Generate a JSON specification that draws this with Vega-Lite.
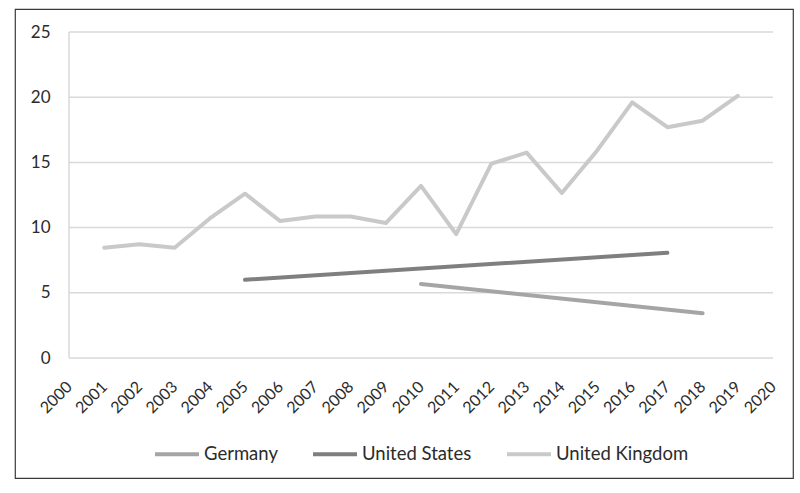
{
  "$schema": "https://vega.github.io/schema/vega-lite/v6.json",
  "width": 778,
  "height": 469,
  "autosize": {"type": "none"},
  "padding": {"left": 15, "top": 9, "right": 7, "bottom": 15},
  "background": "white",
  "config": {
    "view": {"stroke": "#3a3a3a", "strokeWidth": 1.2},
    "font": "Lato",
    "axis": {"labelFont": "Lato", "labelColor": "#2b2b2b", "labelFontSize": 17},
    "axisX": {"labelOverlap": false, "labelFlush": false, "labelFontSize": 16, "labelAngle": -45, "labelAlign": "right", "labelBaseline": "middle", "labelPadding": 26}
  },
  "datasets": {
    "series": [
      {"country": "United Kingdom", "year": 2001, "value": 8.45},
      {"country": "United Kingdom", "year": 2002, "value": 8.72},
      {"country": "United Kingdom", "year": 2003, "value": 8.46},
      {"country": "United Kingdom", "year": 2004, "value": 10.7},
      {"country": "United Kingdom", "year": 2005, "value": 12.6},
      {"country": "United Kingdom", "year": 2006, "value": 10.5},
      {"country": "United Kingdom", "year": 2007, "value": 10.85},
      {"country": "United Kingdom", "year": 2008, "value": 10.85},
      {"country": "United Kingdom", "year": 2009, "value": 10.35},
      {"country": "United Kingdom", "year": 2010, "value": 13.2},
      {"country": "United Kingdom", "year": 2011, "value": 9.5},
      {"country": "United Kingdom", "year": 2012, "value": 14.9},
      {"country": "United Kingdom", "year": 2013, "value": 15.75},
      {"country": "United Kingdom", "year": 2014, "value": 12.65},
      {"country": "United Kingdom", "year": 2015, "value": 15.9},
      {"country": "United Kingdom", "year": 2016, "value": 19.6},
      {"country": "United Kingdom", "year": 2017, "value": 17.7},
      {"country": "United Kingdom", "year": 2018, "value": 18.2},
      {"country": "United Kingdom", "year": 2019, "value": 20.1},
      {"country": "United States", "year": 2005, "value": 6.0},
      {"country": "United States", "year": 2017, "value": 8.07},
      {"country": "Germany", "year": 2010, "value": 5.67},
      {"country": "Germany", "year": 2018, "value": 3.43}
    ],
    "grid": [
      {"v": 0}, {"v": 5}, {"v": 10}, {"v": 15}, {"v": 20}, {"v": 25}
    ],
    "frame": [
      {"start": 2000, "end": 2020, "low": 0, "high": 25}
    ]
  },
  "encoding": {
    "x": {"type": "quantitative",
          "scale": {"domain": [1998.466, 2020.568], "nice": false, "zero": false},
          "axis": {"values": [2000,2001,2002,2003,2004,2005,2006,2007,2008,2009,2010,2011,2012,2013,2014,2015,2016,2017,2018,2019,2020],
                   "format": "d", "offset": -120, "ticks": false, "domain": false, "grid": false, "title": null}},
    "y": {"type": "quantitative",
          "scale": {"domain": [-9.202, 26.764], "nice": false, "zero": false},
          "axis": {"values": [0, 5, 10, 15, 20, 25], "offset": -54, "ticks": false, "domain": false, "grid": false, "labelPadding": 19, "title": null}}
  },
  "layer": [
    {
      "data": {"name": "grid"},
      "mark": {"type": "rule", "color": "#d9d9d9", "strokeWidth": 1.5},
      "encoding": {
        "y": {"field": "v"},
        "x": {"datum": 2000},
        "x2": {"datum": 2020}
      }
    },
    {
      "data": {"name": "frame"},
      "mark": {"type": "rule", "color": "#d9d9d9", "strokeWidth": 1.5},
      "encoding": {
        "x": {"field": "start"},
        "y": {"field": "low"},
        "y2": {"field": "high"}
      }
    },
    {
      "data": {"name": "series"},
      "mark": {"type": "line", "strokeWidth": 4, "strokeJoin": "round", "strokeCap": "round"},
      "encoding": {
        "x": {"field": "year"},
        "y": {"field": "value"},
        "color": {"field": "country", "type": "nominal",
                  "scale": {"domain": ["Germany", "United States", "United Kingdom"], "range": ["#a5a5a5", "#7f7f7f", "#c9c9c9"]},
                  "legend": {"orient": "none", "legendX": 138, "legendY": 421, "direction": "horizontal", "columns": 3,
                             "title": null, "symbolType": "stroke", "symbolSize": 1936, "symbolStrokeWidth": 4,
                             "labelFontSize": 18.5, "labelFont": "Lato", "labelColor": "#2b2b2b", "labelOffset": 3, "columnPadding": 27, "labelLimit": 300}}
      }
    }
  ]
}
